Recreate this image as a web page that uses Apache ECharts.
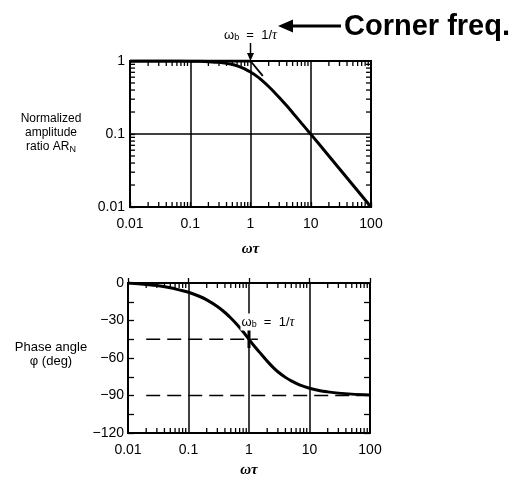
<!DOCTYPE html>
<html><head><meta charset="utf-8">
<script src="https://cdn.jsdelivr.net/npm/echarts@6/dist/echarts.min.js"></script>
<style>html,body{margin:0;padding:0;background:#fff}#c{width:526px;height:483px}</style>
</head><body><div id="c"></div>
<script>
// Dimensionless frequency omega*tau sampled along the amplitude curve
const ampFreq = [0.01, 0.02, 0.05, 0.1, 0.15, 0.2, 0.3, 0.4, 0.5, 0.6, 0.7, 0.8, 1, 1.2, 1.5, 2, 2.5, 3, 4, 5, 7, 10, 20, 50, 100];
// Normalized amplitude ratio AR_N
const ampRatio = [1, 1, 0.999, 0.995, 0.989, 0.98, 0.958, 0.928, 0.894, 0.857, 0.82, 0.781, 0.707, 0.64, 0.555, 0.447, 0.371, 0.316, 0.243, 0.196, 0.141, 0.0995, 0.05, 0.02, 0.01];

// Dimensionless frequency sampled along the phase curve
const phaseFreq = [0.01, 0.02, 0.03, 0.05, 0.07, 0.1, 0.15, 0.2, 0.3, 0.4, 0.5, 0.6, 0.7, 0.8, 1, 1.2, 1.5, 2, 2.5, 3, 4, 5, 7, 10, 15, 20, 30, 50, 100];
// Phase angle in degrees
const phaseDeg = [0, -1.2, -2, -3.8, -5.5, -7.4, -10.6, -13.5, -18.8, -23.6, -28, -32, -35.6, -39, -45, -50, -55.5, -62.5, -67.5, -71, -75.5, -78.3, -81.7, -84.2, -86.2, -87.1, -88.1, -88.9, -89.5];

// Asymptotes and reference lines
const lowAsymptote = [[0.01, 1], [1, 1]];
const highAsymptote = [[1, 1], [1.6, 0.625]];
const halfLine = [[0.02, -45], [1.4, -45]];
const quarterLine = [[0.02, -90], [100, -90]];
const cornerMark = [[1, -37], [1, -52]];

// Tick labels
const freqTickLabels = ['0.01', '0.1', '1', '10', '100'];
const ampTickLabels = ['0.01', '0.1', '1'];
const phaseTickLabels = {'0': '0', '-30': '\u221230', '-60': '\u221260', '-90': '\u221290', '-120': '\u2212120'};
// Intermediate log-decade tick positions
const freqMinor = [0.02, 0.03, 0.04, 0.05, 0.06, 0.07, 0.08, 0.09,
                   0.2, 0.3, 0.4, 0.5, 0.6, 0.7, 0.8, 0.9,
                   2, 3, 4, 5, 6, 7, 8, 9,
                   20, 30, 40, 50, 60, 70, 80, 90];
const ampMinor = [0.02, 0.03, 0.04, 0.05, 0.06, 0.07, 0.08, 0.09,
                  0.2, 0.3, 0.4, 0.5, 0.6, 0.7, 0.8, 0.9];

const INK = '#000';
const FONT = "'Liberation Sans', Arial, sans-serif";
const chart = echarts.init(document.getElementById('c'), null, {renderer: 'canvas'});

function pairs(xs, ys) { return xs.map((x, i) => [x, ys[i]]); }

// inward tick marks on both opposite edges of a grid
function minorTicks(xi, yi, values, dir, yRef) {
  return {
    type: 'custom', xAxisIndex: xi, yAxisIndex: yi, silent: true, clip: false, z: 6,
    data: values.map(v => [v, v]),
    renderItem(params, api) {
      const cs = params.coordSys, v = api.value(0), L = 5;
      const st = {stroke: INK, lineWidth: 1.3};
      if (dir === 'x') {
        const x = api.coord([v, yRef])[0];
        const b = cs.y + cs.height, t = cs.y;
        return {type: 'group', children: [
          {type: 'line', shape: {x1: x, y1: b, x2: x, y2: b - L}, style: st},
          {type: 'line', shape: {x1: x, y1: t, x2: x, y2: t + L}, style: st}
        ]};
      }
      const y = api.coord([1, v])[1];
      const l = cs.x, r = cs.x + cs.width;
      return {type: 'group', children: [
        {type: 'line', shape: {x1: l, y1: y, x2: l + L, y2: y}, style: st},
        {type: 'line', shape: {x1: r, y1: y, x2: r - L, y2: y}, style: st}
      ]};
    }
  };
}

const logX = (gi) => ({
  type: 'log', logBase: 10, gridIndex: gi, min: 0.01, max: 100,
  axisLine: {show: true, lineStyle: {color: INK, width: 2}},
  axisTick: {show: true, inside: true, length: 5, lineStyle: {color: INK, width: 1.3}},
  axisLabel: {color: INK, fontSize: 14, fontFamily: FONT, margin: 10,
              formatter: (v, i) => freqTickLabels[i]},
  splitLine: {show: true, lineStyle: {color: INK, width: 1.5}},
  minorTick: {show: false}
});

const phaseY = (pos, labels) => ({
  type: 'value', gridIndex: 1, position: pos, min: -120, max: 0, interval: 15,
  axisLine: {show: true, lineStyle: {color: INK, width: 2}},
  axisTick: {show: true, inside: true, length: 6, lineStyle: {color: INK, width: 1.3}},
  axisLabel: {show: labels, color: INK, fontSize: 14, fontFamily: FONT, margin: 4,
              formatter: v => phaseTickLabels[String(v)] || ''},
  splitLine: {show: false}
});

chart.setOption({
  animation: false,
  backgroundColor: '#fff',
  grid: [
    {left: 130, right: 155, top: 61, height: 146, show: true, borderColor: INK, borderWidth: 2, outerBoundsMode: 'none'},
    {left: 128, right: 156, top: 283, height: 150, show: true, borderColor: INK, borderWidth: 2, outerBoundsMode: 'none'}
  ],
  xAxis: [logX(0), logX(1)],
  yAxis: [
    {type: 'log', logBase: 10, gridIndex: 0, min: 0.01, max: 1,
     axisLine: {show: true, lineStyle: {color: INK, width: 2}},
     axisTick: {show: true, inside: true, length: 5, lineStyle: {color: INK, width: 1.3}},
     axisLabel: {color: INK, fontSize: 14, fontFamily: FONT, margin: 5,
                 formatter: (v, i) => ampTickLabels[i]},
     splitLine: {show: true, lineStyle: {color: INK, width: 1.5}}},
    phaseY('left', true),
    phaseY('right', false)
  ],
  series: [
    {type: 'line', xAxisIndex: 0, yAxisIndex: 0, data: pairs(ampFreq, ampRatio), smooth: 0.3,
     showSymbol: false, lineStyle: {color: INK, width: 3}, z: 4},
    {type: 'line', xAxisIndex: 0, yAxisIndex: 0, data: lowAsymptote, showSymbol: false,
     lineStyle: {color: INK, width: 3}, z: 4},
    {type: 'line', xAxisIndex: 0, yAxisIndex: 0, data: highAsymptote, showSymbol: false,
     lineStyle: {color: INK, width: 1.8}, z: 4},
    minorTicks(0, 0, freqMinor, 'x', 0.1),
    minorTicks(0, 0, ampMinor, 'y'),
    {type: 'line', xAxisIndex: 1, yAxisIndex: 1, data: pairs(phaseFreq, phaseDeg), smooth: 0.3,
     showSymbol: false, lineStyle: {color: INK, width: 3}, z: 4},
    {type: 'line', xAxisIndex: 1, yAxisIndex: 1, data: halfLine, showSymbol: false,
     lineStyle: {color: INK, width: 1.5, type: [14, 7]}, z: 3},
    {type: 'line', xAxisIndex: 1, yAxisIndex: 1, data: quarterLine, showSymbol: false,
     lineStyle: {color: INK, width: 1.5, type: [14, 7]}, z: 3},
    {type: 'line', xAxisIndex: 1, yAxisIndex: 1, data: cornerMark, showSymbol: false,
     lineStyle: {color: INK, width: 3}, z: 4},
    minorTicks(1, 1, freqMinor, 'x', -45)
  ]
});

// annotations anchored to the corner frequency
const top1 = chart.convertToPixel({xAxisIndex: 0, yAxisIndex: 0}, [1, 1]);
const bot1 = chart.convertToPixel({xAxisIndex: 1, yAxisIndex: 1}, [1, -45]);
const subRich = {
  w: {fontSize: 13, fontFamily: FONT, fill: INK},
  s: {fontSize: 9, fontFamily: FONT, fill: INK, padding: [6, 0, 0, 0]},
  t: {fontSize: 14, fontFamily: "'Liberation Serif', serif", fontStyle: 'italic', fill: INK}
};
const cornerLabel = '{w|\u03c9}{s|b}{w|  =  1/}{t|\u03c4}';
chart.setOption({
  graphic: [
    {type: 'text', x: top1[0], y: 35, style: {text: cornerLabel, rich: subRich, align: 'center', verticalAlign: 'middle'}},
    {type: 'line', shape: {x1: top1[0], y1: 43, x2: top1[0], y2: top1[1] - 5}, style: {stroke: INK, lineWidth: 1.5}},
    {type: 'polygon', shape: {points: [[top1[0] - 3.5, top1[1] - 8], [top1[0] + 3.5, top1[1] - 8], [top1[0], top1[1]]]}, style: {fill: INK}},
    {type: 'line', shape: {x1: 290, y1: 26, x2: 341, y2: 26}, style: {stroke: INK, lineWidth: 3}},
    {type: 'polygon', shape: {points: [[278, 26], [293, 19.5], [293, 32.5]]}, style: {fill: INK}},
    {type: 'text', x: 344, y: 27, style: {text: 'Corner freq.', font: "bold 29px 'Liberation Sans', Arial, sans-serif", fill: INK, align: 'left', verticalAlign: 'middle'}},
    {type: 'text', x: bot1[0] + 19, y: 322, z: 10, style: {text: cornerLabel, rich: subRich, align: 'center', verticalAlign: 'middle', backgroundColor: '#fff', padding: [1, 1]}},
    {type: 'text', x: 51, y: 133, style: {text: 'Normalized\namplitude\nratio AR{s|N}', font: "12px 'Liberation Sans', Arial, sans-serif", fill: INK, align: 'center', verticalAlign: 'middle', lineHeight: 14,
      rich: {s: {fontSize: 9, fontFamily: FONT, fill: INK, padding: [5, 0, 0, 0]}}}},
    {type: 'text', x: 51, y: 354, style: {text: 'Phase angle\n\u03c6 (deg)', font: "13px 'Liberation Sans', Arial, sans-serif", fill: INK, align: 'center', verticalAlign: 'middle', lineHeight: 14}},
    {type: 'text', x: top1[0], y: 249, style: {text: '\u03c9\u03c4', font: "italic bold 15px 'Liberation Serif', serif", fill: INK, align: 'center', verticalAlign: 'middle'}},
    {type: 'text', x: bot1[0], y: 470, style: {text: '\u03c9\u03c4', font: "italic bold 15px 'Liberation Serif', serif", fill: INK, align: 'center', verticalAlign: 'middle'}}
  ]
});
</script></body></html>
